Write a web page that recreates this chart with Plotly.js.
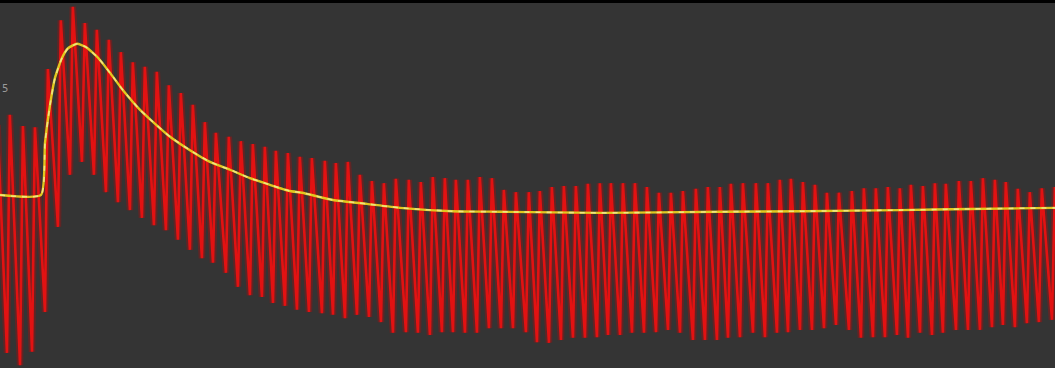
<!DOCTYPE html>
<html>
<head>
<meta charset="utf-8">
<script src="https://cdn.plot.ly/plotly-3.0.1.min.js"></script>
<style>
html,body{margin:0;padding:0;background:#000;}
#chart{width:1055px;height:368px;}
</style>
</head>
<body>
<div id="chart"></div>
<script>
// Time of each trough of the oscillating signal (s)
const troughTimes = [0.058,0.167,0.267,0.375,0.483,0.583,0.683,0.783,0.883,0.983,
1.083,1.183,1.283,1.383,1.483,1.583,1.683,1.775,1.883,1.983,
2.083,2.183,2.275,2.375,2.475,2.575,2.683,2.775,2.875,2.975,
3.075,3.175,3.275,3.383,3.483,3.583,3.683,3.775,3.875,3.975,
4.075,4.175,4.275,4.383,4.475,4.575,4.675,4.775,4.875,4.975,
5.067,5.167,5.267,5.367,5.467,5.567,5.667,5.775,5.875,5.975,
6.067,6.167,6.275,6.375,6.475,6.567,6.667,6.767,6.867,6.967,
7.075,7.175,7.275,7.375,7.475,7.567,7.667,7.767,7.858,7.967,
8.067,8.167,8.267,8.358,8.458,8.558,8.658,8.767];
// Trough values
const troughValues = [0.27,0.05,0.29,1.00,2.52,3.45,3.68,3.45,3.14,2.96,
2.82,2.68,2.55,2.46,2.29,2.11,1.96,1.88,1.70,1.45,
1.30,1.27,1.16,1.11,1.04,1.00,0.98,0.95,0.89,0.95,
0.91,0.82,0.63,0.64,0.63,0.59,0.64,0.64,0.63,0.63,
0.71,0.71,0.71,0.64,0.46,0.45,0.50,0.54,0.54,0.55,
0.59,0.59,0.63,0.63,0.64,0.68,0.63,0.50,0.50,0.50,
0.54,0.55,0.63,0.55,0.63,0.64,0.68,0.68,0.71,0.77,
0.68,0.54,0.55,0.55,0.59,0.54,0.63,0.59,0.63,0.68,
0.68,0.68,0.73,0.77,0.73,0.80,0.82,0.86];
// Peak values (first one belongs to the cycle before the first trough)
const firstPeakTime = -0.02;
const peakValues = [4.34,
4.52,4.32,4.30,5.34,6.21,6.45,6.16,6.04,5.86,5.64,
5.46,5.38,5.29,5.05,4.91,4.70,4.39,4.20,4.13,4.05,
4.00,3.95,3.88,3.84,3.77,3.75,3.70,3.66,3.68,3.45,
3.34,3.30,3.38,3.36,3.32,3.41,3.39,3.36,3.36,3.41,
3.39,3.18,3.14,3.14,3.16,3.23,3.25,3.25,3.29,3.30,
3.30,3.30,3.30,3.23,3.13,3.13,3.16,3.20,3.23,3.23,
3.29,3.30,3.30,3.30,3.36,3.38,3.32,3.27,3.13,3.13,
3.16,3.21,3.21,3.23,3.21,3.27,3.25,3.30,3.29,3.34,
3.34,3.39,3.36,3.32,3.20,3.14,3.21,3.23];
const riseTime = 0.024;

// Smooth (filtered) signal
const smoothTimes = [0,0.342,0.375,0.417,0.458,0.517,0.567,0.642,0.717,0.817,0.917,1.025,1.167,1.267,1.417,1.583,1.75,1.917,2.083,2.25,2.417,2.517,2.775,3.058,3.333,3.767,4.167,5.017,6.0,6.708,7.5,8.083,8.792];
const smoothValues = [3.09,3.09,4.02,4.70,5.18,5.54,5.71,5.79,5.73,5.54,5.27,4.96,4.61,4.41,4.13,3.89,3.68,3.54,3.39,3.27,3.16,3.13,3.00,2.93,2.86,2.80,2.79,2.77,2.79,2.80,2.82,2.84,2.86];

const yTickVals = [5];
const yTickText = ['5'];

const rx = [firstPeakTime], ry = [peakValues[0]];
for (let i = 0; i < troughTimes.length; i++) {
  rx.push(troughTimes[i]); ry.push(troughValues[i]);
  if (i + 1 < peakValues.length) { rx.push(troughTimes[i] + riseTime); ry.push(peakValues[i + 1]); }
}

const traces = [
  {x: rx, y: ry, mode: 'lines', line: {color: 'rgba(210,0,0,0.3)', width: 6.5}, hoverinfo: 'skip', showlegend: false},
  {x: rx, y: ry, mode: 'lines', line: {color: 'rgb(226,18,18)', width: 2.6}, showlegend: false},
  {x: smoothTimes, y: smoothValues, mode: 'lines', line: {color: 'rgb(226,200,30)', width: 2.4, shape: 'spline', smoothing: 0.5}, showlegend: false},
  {x: smoothTimes, y: smoothValues, mode: 'lines', line: {color: 'rgb(240,228,130)', width: 1.6, dash: '5px,6px', shape: 'spline', smoothing: 0.5}, showlegend: false}
];

const layout = {
  width: 1055, height: 368,
  margin: {l: 0, r: 0, t: 3, b: 0, pad: 0},
  paper_bgcolor: '#000000',
  plot_bgcolor: '#343434',
  showlegend: false,
  xaxis: {range: [0, 8.792], showgrid: false, zeroline: false, showticklabels: false, showline: false, ticks: ''},
  yaxis: {range: [0, 6.518], showgrid: false, zeroline: false, showticklabels: false, showline: false, ticks: '', tickvals: yTickVals},
  annotations: [{
    x: 0, xref: 'paper', y: yTickVals[0], yref: 'y', text: yTickText[0],
    xanchor: 'left', xshift: 0, showarrow: false,
    font: {family: 'DejaVu Sans, sans-serif', size: 10, color: '#9a9a9a'}
  }]
};

Plotly.newPlot('chart', traces, layout, {staticPlot: true, displayModeBar: false});
</script>
</body>
</html>
